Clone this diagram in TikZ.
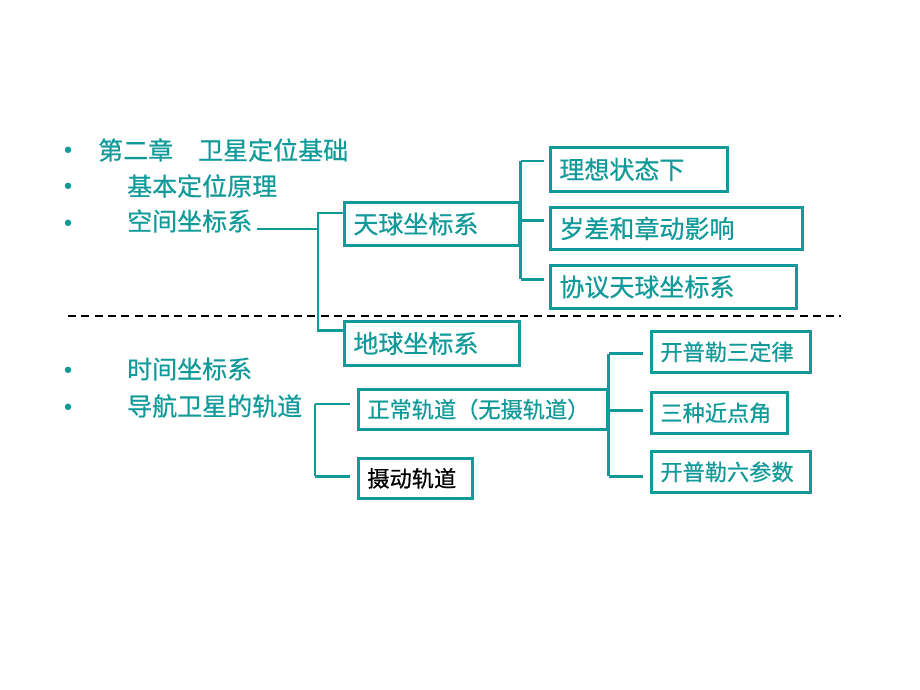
\documentclass[tikz,border=0pt]{standalone}
\usepackage{fontspec}
\setmainfont[FakeBold=0.6]{Noto Sans CJK SC}
\newfontfamily\bulletfont{DejaVu Sans}
\usetikzlibrary{calc}
\definecolor{tealc}{HTML}{129A9A}
\begin{document}
\begin{tikzpicture}[x=1pt,y=-1pt,
  conn/.style={draw=tealc, line width=2.8pt, line join=miter},
  box/.style={draw=tealc, line width=2.8pt, anchor=north west, inner xsep=9pt, inner ysep=0pt,
              align=left, text=tealc},
  bigbox/.style={box, font=\fontsize{25}{27}\selectfont},
  smallbox/.style={box, font=\fontsize{22.2}{24}\selectfont},
  lbl/.style={anchor=west, inner sep=0pt, text=tealc, font=\fontsize{25}{27}\selectfont},
  bul/.style={inner sep=0pt, text=tealc, font=\bulletfont\fontsize{22}{24}\selectfont},
  sep/.style={draw=black, line width=1.8pt, dash pattern=on 8pt off 5.3pt}]
\useasboundingbox (0,0) rectangle (920,690);

% bullets and list text
\node[bul] (b1) at (68,153) {•};
\node[bul] (b2) at (68,189) {•};
\node[bul] (b3) at (68,226) {•};
\node[bul] (b4) at (68,373) {•};
\node[bul] (b5) at (68,410) {•};
\node[lbl] (s1) at (98,150) {第二章\hspace*{1em}卫星定位基础};
\node[lbl] (s2) at (127,186) {基本定位原理};
\node[lbl] (s3) at (127,221) {空间坐标系};
\node[lbl] (s4) at (127,369) {时间坐标系};
\node[lbl] (s5) at (127,406) {导航卫星的轨道};

% upper boxes
\node[bigbox, minimum width=175, minimum height=43, text width=157] (tq) at (343,201) {天球坐标系};
\node[bigbox, minimum width=175, minimum height=44, text width=157] (dq) at (343,320) {地球坐标系};
\node[bigbox, minimum width=177, minimum height=44, text width=159] (r1) at (549,146) {理想状态下};
\node[bigbox, minimum width=252, minimum height=42, text width=234] (r2) at (549,206) {岁差和章动影响};
\node[bigbox, minimum width=246, minimum height=43, text width=228] (r3) at (549,264) {协议天球坐标系};

% lower boxes
\node[smallbox, minimum width=249, minimum height=40, text width=231] (zc) at (357,388) {正常轨道（无摄轨道）};
\node[smallbox, minimum width=114, minimum height=40, text width=96, text=black] (sd) at (357,457) {摄动轨道};
\node[smallbox, minimum width=159, minimum height=41, text width=141] (k1) at (650,330) {开普勒三定律};
\node[smallbox, minimum width=136, minimum height=41, text width=118] (k2) at (650,391) {三种近点角};
\node[smallbox, minimum width=159, minimum height=41, text width=141] (k3) at (650,450) {开普勒六参数};

% separator
\coordinate (dl) at (68,316);
\coordinate (dr) at (841,316);
\draw[sep] (dl) -- (dr);

% connectors: 空间坐标系
\coordinate (j1) at (318,229);
\coordinate (ptq) at ($(tq.north west)!0.26!(tq.south west)$);
\coordinate (pdq) at ($(dq.north west)!0.23!(dq.south west)$);
\draw[conn] ($(s3.east)+(5,8)$) -- (j1);
\draw[conn] (ptq) -- (ptq -| j1) -- (pdq -| j1) -- (pdq);

% connectors: 天球坐标系
\coordinate (pr1) at ($(r1.north west)!0.32!(r1.south west)$);
\coordinate (pr2) at ($(r2.north west)!0.33!(r2.south west)$);
\coordinate (pr3) at ($(r3.north west)!0.33!(r3.south west)$);
\draw[conn, shorten >=5pt] (pr1 -| tq.east) -- (pr1);
\draw[conn, shorten >=5pt] (pr2 -| tq.east) -- (pr2);
\draw[conn, shorten >=5pt] (pr3 -| tq.east) -- (pr3);
\draw[conn] (pr1 -| tq.east) -- (pr3 -| tq.east);

% connectors: 导航卫星的轨道
\coordinate (j2) at (315,403);
\coordinate (pzc) at ($(zc.north west)!0.375!(zc.south west)$);
\coordinate (psd) at ($(sd.north west)!0.45!(sd.south west)$);
\draw[conn, shorten >=7pt] (pzc -| j2) -- (pzc);
\draw[conn, shorten >=7pt] (psd -| j2) -- (psd);
\draw[conn] (pzc -| j2) -- (psd -| j2);

% connectors: 正常轨道
\coordinate (pk1) at ($(k1.north west)!0.54!(k1.south west)$);
\coordinate (pk2) at ($(k2.north west)!0.44!(k2.south west)$);
\coordinate (pk3) at ($(k3.north west)!0.6!(k3.south west)$);
\draw[conn, shorten >=7pt] (pk1 -| zc.east) -- (pk1);
\draw[conn, shorten >=7pt] (pk2 -| zc.east) -- (pk2);
\draw[conn, shorten >=7pt] (pk3 -| zc.east) -- (pk3);
\draw[conn] (pk1 -| zc.east) -- (pk3 -| zc.east);
\end{tikzpicture}
\end{document}
